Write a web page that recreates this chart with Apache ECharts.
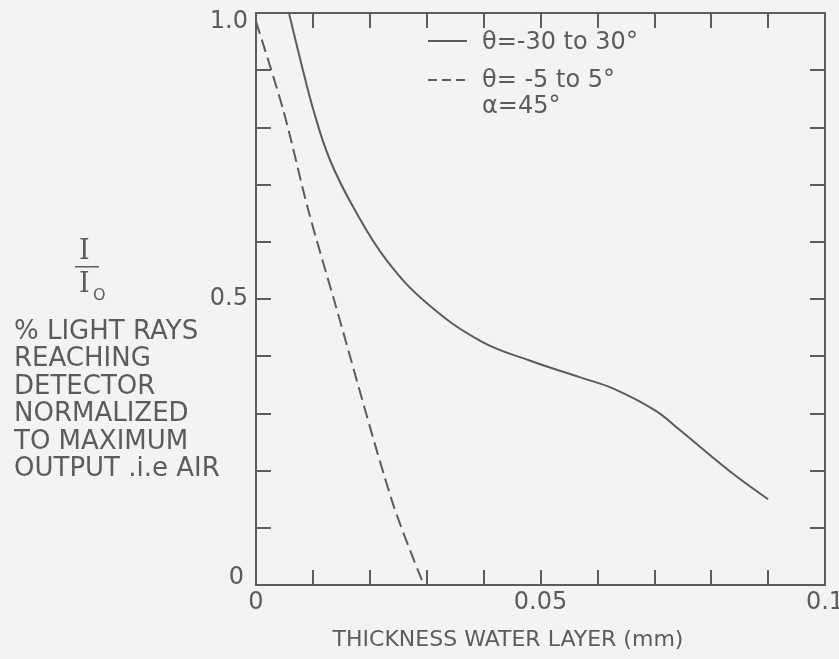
<!DOCTYPE html>
<html><head><meta charset="utf-8">
<script src="https://cdn.jsdelivr.net/npm/echarts@6/dist/echarts.min.js"></script>
<style>html,body{margin:0;padding:0;background:#f3f3f3;overflow:hidden}#c{width:839px;height:659px}</style>
</head><body><div id="c"></div>
<script>
// Solid curve: theta = -30 to 30 deg
const solidX = [0.0058, 0.0078, 0.0101, 0.0130, 0.0174, 0.0230, 0.0301, 0.0394, 0.0482, 0.0570, 0.0629, 0.0702, 0.0746, 0.0835, 0.0900];
const solidY = [1.000, 0.918, 0.830, 0.743, 0.655, 0.567, 0.492, 0.427, 0.392, 0.363, 0.343, 0.305, 0.270, 0.197, 0.150];
// Dashed curve: theta = -5 to 5 deg
const dashedX = [0.0000, 0.0048, 0.0092, 0.0139, 0.0239, 0.0295];
const dashedY = [0.985, 0.830, 0.655, 0.492, 0.147, 0.000];
const seriesNames = ['θ=-30 to 30°', 'θ= -5 to 5°'];
const legendNote = 'α=45°';
const xLabelValues = [0, 0.05, 0.1];
const xLabelTexts = ['0', '0.05', '0.1'];
const yLabelValues = [0, 0.5, 1.0];
const yLabelTexts = ['{lo|0}', '0.5', '{hi|1.0}'];
const xTitle = 'THICKNESS WATER LAYER (mm)';
const leftLines = ['% LIGHT RAYS', 'REACHING', 'DETECTOR', 'NORMALIZED', 'TO MAXIMUM', 'OUTPUT .i.e AIR'];

const ink = '#5c5c5c';
const font = 'DejaVu Sans';
function pick(vals, texts) {
  return function (v) {
    for (let i = 0; i < vals.length; i++) if (Math.abs(v - vals[i]) < 1e-6) return texts[i];
    return '';
  };
}
const lineSt = { color: ink, width: 2 };
function xAx(pos, labels) {
  return {
    type: 'value', min: 0, max: 0.1, interval: 0.01, position: pos,
    axisLine: { show: true, onZero: false, lineStyle: lineSt },
    axisTick: { show: true, inside: true, length: 15, lineStyle: lineSt },
    splitLine: { show: false },
    axisLabel: { show: labels, formatter: pick(xLabelValues, xLabelTexts), fontSize: 24, color: ink, fontFamily: font, margin: 6, showMinLabel: true, showMaxLabel: true, hideOverlap: false }
  };
}
function yAx(pos, labels) {
  const ts = { fontSize: 24, color: ink, fontFamily: font };
  return {
    type: 'value', min: 0, max: 1, interval: 0.1, position: pos,
    axisLine: { show: true, onZero: false, lineStyle: lineSt },
    axisTick: { show: true, inside: true, length: 15, lineStyle: lineSt },
    splitLine: { show: false },
    axisLabel: {
      show: labels, formatter: pick(yLabelValues, yLabelTexts), fontSize: 24, color: ink, fontFamily: font, margin: 8,
      showMinLabel: true, showMaxLabel: true, hideOverlap: false,
      rich: {
        hi: Object.assign({ padding: [18, 0, 0, 0] }, ts),
        lo: Object.assign({ padding: [0, 4, 14, 0] }, ts)
      }
    }
  };
}
const chart = echarts.init(document.getElementById('c'));
const graphics = [];
leftLines.forEach(function (t, i) {
  graphics.push({ type: 'text', x: 14, y: 332 + i * 27.5, style: { text: t, fontSize: 26, fill: ink, fontFamily: font, verticalAlign: 'middle' } });
});
graphics.push({ type: 'text', left: 79, top: 238, style: { text: 'I', fontSize: 27, fill: ink, fontFamily: 'DejaVu Serif' } });
graphics.push({ type: 'rect', shape: { x: 75, y: 266, width: 24, height: 1.5 }, style: { fill: ink } });
graphics.push({ type: 'text', left: 79, top: 271, style: { text: 'I', fontSize: 27, fill: ink, fontFamily: 'DejaVu Serif' } });
graphics.push({ type: 'text', left: 93, top: 288, style: { text: 'O', fontSize: 16, fill: ink, fontFamily: font } });
// legend
graphics.push({ type: 'line', shape: { x1: 428, y1: 41, x2: 467, y2: 41 }, style: { stroke: ink, lineWidth: 2 } });
graphics.push({ type: 'text', x: 482, y: 43, style: { text: seriesNames[0], fontSize: 24, fill: ink, fontFamily: font, verticalAlign: 'middle' } });
graphics.push({ type: 'line', shape: { x1: 428, y1: 80, x2: 467, y2: 80 }, style: { stroke: ink, lineWidth: 2, lineDash: [9, 5] } });
graphics.push({ type: 'text', x: 482, y: 81, style: { text: seriesNames[1], fontSize: 24, fill: ink, fontFamily: font, verticalAlign: 'middle' } });
graphics.push({ type: 'text', x: 482, y: 107, style: { text: legendNote, fontSize: 24, fill: ink, fontFamily: font, verticalAlign: 'middle' } });
// x title
graphics.push({ type: 'text', x: 508, y: 640, style: { text: xTitle, fontSize: 22, fill: ink, fontFamily: font, align: 'center', verticalAlign: 'middle' } });

chart.setOption({
  backgroundColor: '#f3f3f3',
  animation: false,
  grid: { left: 256, right: 14, top: 13, bottom: 74, containLabel: false, outerBoundsMode: 'none' },
  xAxis: [xAx('bottom', true), xAx('top', false)],
  yAxis: [yAx('left', true), yAx('right', false)],
  graphic: graphics,
  series: [
    { name: seriesNames[0], type: 'line', smooth: 0.4, symbol: 'none', data: solidX.map(function (x, i) { return [x, solidY[i]]; }), lineStyle: { color: ink, width: 2 } },
    { name: seriesNames[1], type: 'line', smooth: 0.3, symbol: 'none', data: dashedX.map(function (x, i) { return [x, dashedY[i]]; }), lineStyle: { color: ink, width: 2, type: [13, 6] } }
  ]
});
</script></body></html>
